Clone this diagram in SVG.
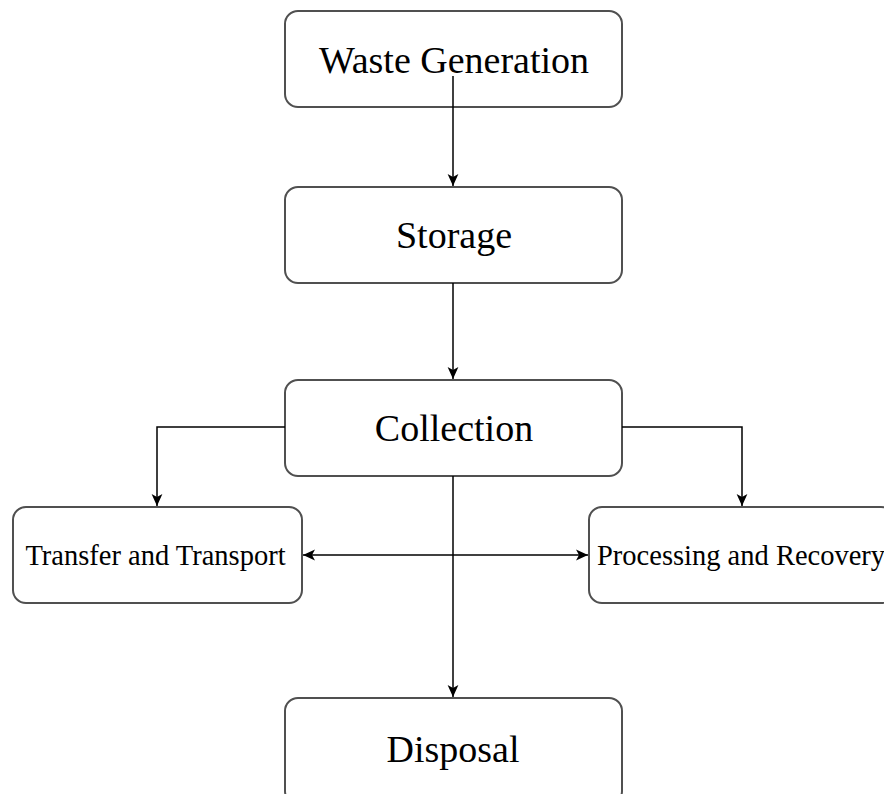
<svg xmlns="http://www.w3.org/2000/svg" width="884" height="794" viewBox="0 0 884 794">
<style>
.box{fill:#fff;stroke:#505050;stroke-width:2}
.lbl{font-family:"Liberation Serif","Times New Roman",serif;fill:#000}
.big{font-size:38px;text-anchor:middle}
.sm{font-size:28.5px}
.con{fill:none;stroke:#000;stroke-width:1.5}
</style>
<defs>
<marker id="ah" viewBox="0 0 10 10" refX="10" refY="5" markerWidth="12" markerHeight="12" markerUnits="userSpaceOnUse" orient="auto-start-reverse">
<path d="M0,0.5 L10,5 L0,9.5 L2.5,5 Z" fill="#000"/>
</marker>
</defs>
<g id="waste-generation"><rect class="box" x="285" y="11" width="337" height="96" rx="13"/><text class="lbl big" x="454" y="73">Waste Generation</text></g>
<g id="storage"><rect class="box" x="285" y="187" width="337" height="96" rx="13"/><text class="lbl big" x="454" y="248">Storage</text></g>
<g id="collection"><rect class="box" x="285" y="380" width="337" height="96" rx="13"/><text class="lbl big" x="454" y="441">Collection</text></g>
<g id="transfer"><rect class="box" x="13" y="507" width="289" height="96" rx="13"/><text class="lbl sm" x="155.5" y="565" text-anchor="middle">Transfer and Transport</text></g>
<g id="processing"><rect class="box" x="589" y="507" width="305" height="96" rx="13"/><text class="lbl sm" x="597" y="565">Processing and Recovery</text></g>
<g id="disposal"><rect class="box" x="285" y="698" width="337" height="106" rx="13"/><text class="lbl big" x="453" y="762">Disposal</text></g>
<g id="connectors">
<path class="con" d="M453,76 V186" marker-end="url(#ah)"/>
<path class="con" d="M453,283 V379" marker-end="url(#ah)"/>
<path class="con" d="M285,427 H157 V506" marker-end="url(#ah)"/>
<path class="con" d="M622,427 H742 V506" marker-end="url(#ah)"/>
<path class="con" d="M453,476 V697" marker-end="url(#ah)"/>
<path class="con" d="M303,555 H588" marker-start="url(#ah)" marker-end="url(#ah)"/>
</g>
</svg>
